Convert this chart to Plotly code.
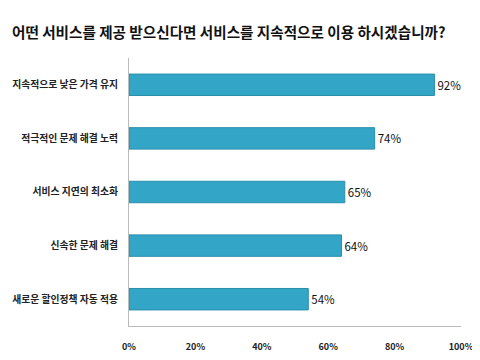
import plotly.graph_objects as go

categories = ["지속적으로 낮은 가격 유지", "적극적인 문제 해결 노력", "서비스 지연의 최소화", "신속한 문제 해결", "새로운 할인정책 자동 적용"]
values = [92, 74, 65, 64, 54]
x_ticks = [0, 20, 40, 60, 80, 100]
title = "어떤 서비스를 제공 받으신다면 서비스를 지속적으로 이용 하시겠습니까?"

font = "Noto Sans CJK KR"

# page body has an 8px default margin; figure sized to fit the 480x360 window
W, H = 472, 352

fig = go.Figure(go.Bar(
    y=categories,
    x=values,
    orientation="h",
    marker=dict(color="#33A6C7", line=dict(color="#2A8DAA", width=1)),
    width=0.4,
    text=[f"{v}%" for v in values],
    textposition="outside",
    textfont=dict(family=font, size=11.5, color="#111111"),
    cliponaxis=False,
))

fig.update_layout(
    width=W, height=H,
    margin=dict(l=121, r=19, t=50, b=34, autoexpand=False),
    paper_bgcolor="white", plot_bgcolor="white",
    showlegend=False,
    title=dict(text=f"<b>{title}</b>", x=4 / W, xanchor="left", y=1 - 25 / H, yanchor="middle",
               font=dict(family=font, size=14.6, color="#111111")),
    xaxis=dict(range=[0, 100], tickvals=x_ticks, ticktext=[f"<b>{t}%</b>" for t in x_ticks],
               showgrid=False, zeroline=False, showline=True, linecolor="#BBBBBB", linewidth=1,
               ticks="", ticklabelstandoff=12, automargin=False,
               tickfont=dict(family=font, size=9, color="#222222")),
    yaxis=dict(autorange="reversed", showgrid=False, zeroline=False, showline=True,
               linecolor="#BBBBBB", linewidth=1, ticks="", ticklabelstandoff=8, automargin=False,
               tickvals=categories, ticktext=[f"<b>{c}</b>" for c in categories],
               tickfont=dict(family=font, size=9.8, color="#222222")),
)

fig.write_html("out.html")
